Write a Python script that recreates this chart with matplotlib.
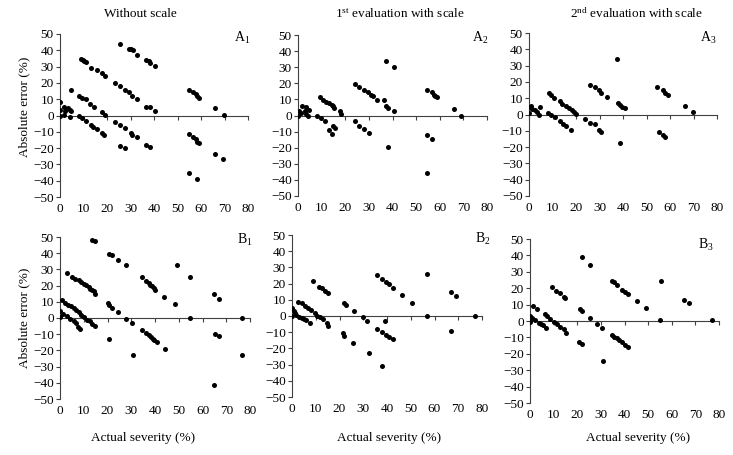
import matplotlib
matplotlib.use("Agg")
import matplotlib.pyplot as plt

plt.rcParams['font.family'] = ['Liberation Serif', 'DejaVu Serif']
plt.rcParams['mathtext.fontset'] = 'custom'
plt.rcParams['mathtext.rm'] = 'Liberation Serif'
plt.rcParams['mathtext.it'] = 'Liberation Serif'
plt.rcParams['font.size'] = 9.5

# --- data (actual severity %, absolute error %) ---
a1_x = [0, 0, 0, 1.8, 2.1, 1.8, 3.3, 4.2, 4.7, 4.2, 4.5,
        8.9, 9.6, 10.3, 11, 13.4, 15.6, 17.7, 19.1,
        25.7, 29.4, 30.4, 31.1, 32.8, 36.8, 37.8, 38.5, 40.6,
        8.1, 9.5, 11, 12.7, 14.6, 17.7, 19.1,
        23.6, 25.7, 27.6, 29.4, 30.7, 32.8, 36.8, 38.2, 40.6,
        8.1, 9.2, 11, 13, 14.1, 15.6, 17.7, 18.8,
        23.6, 25.7, 27.6, 30.1, 30.7, 32.8,
        25.7, 27.6, 36.8, 38.2,
        54.7, 56.6, 57.7, 58.4, 59.1, 65.8, 69.6,
        54.7, 56.6, 57.7, 58.4, 59.1,
        54.7, 58.3, 65.8, 69.3]
a1_y = [0, 3.5, 8, 5.5, 2.9, 0.4, 4.5, 3.5, 2.5, -1, 15.4,
        34.9, 34.3, 33.7, 33, 29.4, 28.1, 26, 24.4,
        44.1, 40.9, 40.5, 40, 37.4, 33.9, 33.3, 32.2, 30.2,
        12.1, 10.9, 10, 7.2, 5.1, 2.1, 0.4,
        19.9, 17.9, 15.8, 14.2, 12.1, 10.1, 5.5, 5.1, 2.5,
        -0.6, -1.6, -3.1, -5.7, -7.2, -8.4, -10.5, -11.9,
        -3.7, -5.7, -7.8, -10.5, -11.9, -13.3,
        -18.5, -19.7, -18.1, -19.1,
        15.8, 14.4, 13.1, 11.7, 10.7, 4.9, 0.4,
        -11.5, -13.3, -14.6, -16, -17,
        -35.5, -39, -23.8, -26.7]

a2_x = [0, 0.4, 1.7, 1.4, 2.8, 3.3, 3.5, 4.5, 4.2,
        9.2, 10.6, 12, 13.2, 14.2, 14.9, 15.3, 17.7, 18.4,
        8.1, 9.6, 11.3, 13.2, 14.2, 14.9, 15.6,
        24.1, 25.9, 27.9, 29.7, 30.7, 31.9, 33.3, 36.4, 37.1, 38.2, 40.7,
        37.1, 40.7,
        24.1, 25.9, 27.9, 30.2, 38.2,
        54.5, 56.7, 57.4, 58.1, 58.8, 65.9, 69.1,
        54.5, 56.7, 54.5]
a2_y = [0, 3.1, 6.2, 1.7, 2.5, 1, 5.2, 3.7, -0.4,
        11.8, 9.9, 8.3, 7.7, 6.6, 5.8, 4.6, 2.7, 1,
        0, -1.4, -3.5, -9.3, -11.4, -6.8, -7.9,
        19.7, 17.6, 16.1, 14.5, 13, 12.4, 9.7, 9.9, 5.8, 4.8, 2.5,
        33.7, 30.4,
        -3.7, -6.6, -8.3, -11, -19.3,
        16.1, 14.5, 13, 12.4, 11.4, 4.1, 0,
        -12.4, -14.5, -35.8]

a3_x = [0, 0.3, 0.7, 1.4, 2.4, 3.4, 4.3, 4.8,
        8.5, 9.5, 10.5, 13, 14.2, 15.6, 17, 18.4, 19.1, 19.9,
        8.1, 9.5, 10.9, 13, 14.5, 15.6, 17.7,
        26.1, 27.9, 29.8, 30.8, 33.2,
        23.7, 26.1, 27.9, 29.8, 30.8,
        37.4, 37.9, 38.9, 39.7, 40.7, 38.9,
        54.6, 57, 58, 59.1, 66.5, 69.8,
        55.2, 57, 58]
a3_y = [0.8, 4.5, 5.1, 3.5, 2.9, 1.4, 0, 4.5,
        13.1, 12.1, 10, 8, 6.6, 5.5, 3.9, 2.9, 1.4, 0.4,
        1, -0.2, -1.6, -4.1, -5.7, -6.8, -9.4,
        18.2, 16.8, 14.8, 13.3, 10.7,
        -2.7, -5.1, -6.1, -9.4, -10.5,
        34.2, 7.2, 5.9, 4.9, 3.9, -17.6,
        16.8, 15.2, 13.1, 11.7, 5.5, 1.4,
        -10.5, -12.5, -13.9]

b1_x = [0, 0, 1.4, 2.8, 4.2, 5.7, 6.8, 7.5, 8.5,
        0.7, 2.1, 3.5, 4.7, 5.7, 6.8, 7.8, 8.9, 9.9, 11.3, 12.5, 13.5, 14.6,
        2.8, 5, 6.4, 7.8, 8.9, 9.9, 11, 12, 12.7, 13.5, 14.2, 14.9,
        13.5, 14.9,
        20.8, 21.7, 24.5, 27.9,
        20.1, 20.8, 21.7, 24.5, 27.6, 30.5, 20.8, 30.7,
        34.4, 36.4, 37.3, 38, 38.7, 39.4, 40.1, 43.9, 48.4, 49.2, 54.8, 54.8,
        34.4, 36.4, 37.3, 38.2, 39, 39.7, 40.7, 44.3,
        64.7, 66.9, 65.2, 66.9, 64.7,
        76.8, 76.8]
b1_y = [0.6, 4.1, 2.7, 1.2, -0.4, -1.9, -2.9, -5.6, -6.6,
        10.9, 9.5, 8.2, 7.2, 6.2, 4.7, 3.7, 2.1, 0.6, -1, -2.1, -3.5, -5.1,
        27.8, 25.3, 24.3, 23.3, 22.2, 21.2, 20.2, 19.1, 18.1, 17.1, 16.5, 15,
        48.4, 47.3,
        39.7, 39.1, 35.6, 32.5,
        9.3, 7.8, 6.4, 3.7, -0.4, -3.1, -12.8, -23,
        25.3, 22.6, 21.6, 20.6, 19.5, 18.5, 17.5, 13, 8.4, 32.5, 25.3, 0.2,
        -7.6, -9.1, -10.3, -11.7, -12.8, -13.8, -14.8, -18.9,
        15, 11.9, -9.7, -11.3, -41.6,
        0, -22.6]

b2_x = [0, 0, 0.7, 1.1, 1.8, 3, 4, 5, 6.1, 7.5,
        2.6, 4, 5.4, 6.8, 8.2, 9.6, 10.6, 11.8, 12.9, 14.6, 15.3,
        8.9, 11.5, 12.5, 13.9, 15,
        21.7, 22.7, 26, 29.8, 31.6, 21.4, 22, 25.7, 32.3,
        35.6, 37.7, 39.7, 40.9, 42.6, 46.2, 50.5,
        35.6, 37.7, 39.7, 40.9, 42.6, 39, 38,
        56.9, 56.9, 66.8, 68.9, 67.1, 77]
b2_y = [0.2, 4.7, 3.3, 1.6, 0.6, -0.4, -1, -1.9, -2.5, -4.5,
        8.9, 7.8, 6.4, 4.7, 3.7, 1.6, 0.2, -0.8, -2.1, -4.5, -6.2,
        21.9, 18.1, 17.1, 15.7, 14.4,
        7.8, 6.8, 3.1, -0.8, -3.1, -10.7, -12.4, -16.9, -22.7,
        25.4, 22.9, 21.2, 19.6, 17.5, 13, 8.2,
        -8, -9.7, -11.8, -12.8, -14.4, -3.1, -30.9,
        26, 0.2, 15, 12.4, -9.3, 0]

b3_x = [0, 0, 1, 1.4, 2.1, 3.1, 3.6, 4.6, 5.7, 6.4, 7.1, 6.8, 8.3, 10.2, 11.4, 12.5, 14.2, 15.4,
        9.2, 11.1, 12.5, 14.2, 14.7,
        21.1, 21.8, 21.8, 25.3, 25.3, 28.4, 30.6, 20.6, 21.8, 31,
        34.9, 35.6, 37, 39.1, 40.3, 41.5, 45.2, 49.1,
        34.9, 35.6, 37, 37.7, 38.8, 40.3, 41.5,
        55.5, 55, 65, 67.1, 77.1]
b3_y = [-0.4, 3.1, 2, 9.2, 0.6, 7.1, -1, -1.6, -2.7, 4.1, 3.1, -4.1, 1, -0.4, -2, -3.7, -4.7, -7.1,
        21, 18.4, 17.3, 14.7, 13.9,
        7.1, 6.1, 39.2, 34.3, 2, -1.6, -4.1, -12.7, -13.9, -24.5,
        24.5, 23.5, 21.8, 18.8, 17.8, 16.3, 12.2, 7.8,
        -8.6, -9.6, -10.6, -11.6, -12.9, -14.7, -15.7,
        24.5, 0.6, 12.7, 11.2, 0.4]

panel_names = [r'A$_1$', r'A$_2$', r'A$_3$', r'B$_1$', r'B$_2$', r'B$_3$']
col_titles = ['Without scale',
              r'1$^{\mathrm{st}}$ evaluation with scale',
              r'2$^{\mathrm{nd}}$ evaluation with scale']
x_ticks = [0, 10, 20, 30, 40, 50, 60, 70, 80]
y_ticks = [-50, -40, -30, -20, -10, 0, 10, 20, 30, 40, 50]

W, H = 733, 455
# axes boxes in pixels: left, top, right, bottom
boxes = [(60, 34, 248, 197), (298, 35, 487, 196), (529, 33, 717, 196),
         (60, 237, 250, 399), (292, 235, 482, 397), (530, 239, 719, 403)]
# panel label spots in pixels
label_spots = [(242, 38), (480, 38), (708, 38), (245, 240), (483, 239), (706, 245)]

fig = plt.figure(figsize=(W / 100, H / 100), dpi=100)

series = [(a1_x, a1_y), (a2_x, a2_y), (a3_x, a3_y),
          (b1_x, b1_y), (b2_x, b2_y), (b3_x, b3_y)]

for i, (xs, ys) in enumerate(series):
    l, t, r, b = boxes[i]
    ax = fig.add_axes([l / W, 1 - b / H, (r - l) / W, (b - t) / H])
    ax.scatter(xs, ys, s=13, c='black', linewidths=0, zorder=3)
    ax.set_xlim(0, 80)
    ax.set_ylim(-50, 50)
    ax.set_xticks(x_ticks)
    ax.set_yticks(y_ticks)
    for side in ['top', 'right']:
        ax.spines[side].set_visible(False)
    ax.spines['bottom'].set_position(('data', 0))
    for side in ['left', 'bottom']:
        ax.spines[side].set_linewidth(0.8)
        ax.spines[side].set_color('#404040')
    # x labels sit below the -50 line while the axis crosses at 0
    half_pts = (b - t) / 2 * 72 / 100
    ax.tick_params(axis='x', direction='out', length=3, width=0.8,
                   color='#404040', pad=half_pts + 1)
    ax.tick_params(axis='y', direction='out', length=3, width=0.8,
                   color='#404040', pad=1.5)
    ax.patch.set_visible(False)
    lx, ly = label_spots[i]
    fig.text(lx / W, 1 - ly / H, panel_names[i], ha='center', va='center',
             fontsize=10)

title_spots = [(140, 14), (400, 14), (637, 14)]
for (tx, ty), title in zip(title_spots, col_titles):
    fig.text(tx / W, 1 - ty / H, title, ha='center', va='center')

for cx in [143, 389, 638]:
    fig.text(cx / W, 1 - 438 / H, 'Actual severity (%)', ha='center', va='center')

for cy in [107, 318]:
    fig.text(24 / W, 1 - cy / H, 'Absolute error (%)', ha='center', va='center',
             rotation=90)

fig.savefig('out.png', dpi=100)
